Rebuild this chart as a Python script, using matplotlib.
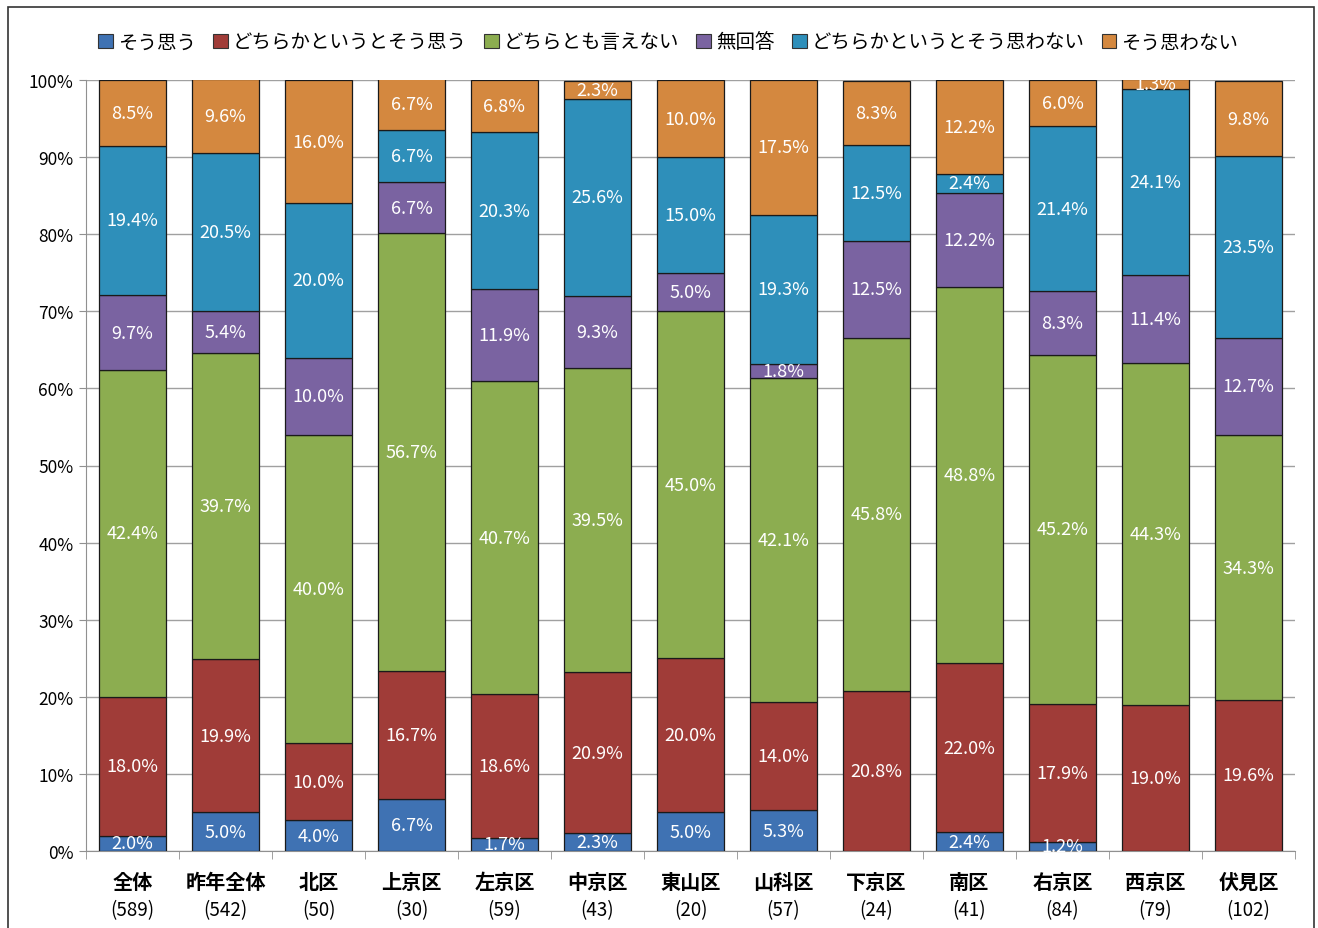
import numpy as np
import matplotlib.pyplot as plt
from matplotlib.patches import Rectangle, Patch

plt.rcParams['font.family'] = ['Noto Sans CJK JP', 'DejaVu Sans']

# データ
areas = ["全体", "昨年全体", "北区", "上京区", "左京区", "中京区", "東山区",
         "山科区", "下京区", "南区", "右京区", "西京区", "伏見区"]
counts = [589, 542, 50, 30, 59, 43, 20, 57, 24, 41, 84, 79, 102]

series_names = ["そう思う", "どちらかというとそう思う", "どちらとも言えない",
                "無回答", "どちらかというとそう思わない", "そう思わない"]

sou_omou = [2.0, 5.0, 4.0, 6.7, 1.7, 2.3, 5.0, 5.3, 0.0, 2.4, 1.2, 0.0, 0.0]
dochiraka_omou = [18.0, 19.9, 10.0, 16.7, 18.6, 20.9, 20.0, 14.0, 20.8, 22.0, 17.9, 19.0, 19.6]
dochiratomo = [42.4, 39.7, 40.0, 56.7, 40.7, 39.5, 45.0, 42.1, 45.8, 48.8, 45.2, 44.3, 34.3]
mukaitou = [9.7, 5.4, 10.0, 6.7, 11.9, 9.3, 5.0, 1.8, 12.5, 12.2, 8.3, 11.4, 12.7]
dochiraka_omowanai = [19.4, 20.5, 20.0, 6.7, 20.3, 25.6, 15.0, 19.3, 12.5, 2.4, 21.4, 24.1, 23.5]
sou_omowanai = [8.5, 9.6, 16.0, 6.7, 6.8, 2.3, 10.0, 17.5, 8.3, 12.2, 6.0, 1.3, 9.8]

series_values = [sou_omou, dochiraka_omou, dochiratomo, mukaitou,
                 dochiraka_omowanai, sou_omowanai]
colors = ["#3f72b3", "#a03c38", "#8cad50", "#7a63a1", "#2e8fba", "#d4883f"]

fig = plt.figure(figsize=(13.18, 9.29), dpi=100)
fig.patch.set_facecolor("white")

# 外枠
fig.patches.append(Rectangle((8 / 1318, -0.01), 1306 / 1318, 1 - 8 / 929 + 0.01,
                             transform=fig.transFigure, fill=False,
                             edgecolor="#333333", linewidth=1.2))

ax = fig.add_axes([86 / 1318, 1 - 852 / 929, (1295 - 86) / 1318, (852 - 81) / 929])

x = np.arange(len(areas))
bottom = np.zeros(len(areas))
for name, vals, col in zip(series_names, series_values, colors):
    vals = np.array(vals)
    ax.bar(x, vals, width=0.72, bottom=bottom, color=col, edgecolor="#1a1a1a",
           linewidth=0.9, label=name, zorder=3)
    for xi, b, v in zip(x, bottom, vals):
        if v > 0:
            ax.text(xi, b + v / 2, f"{v:.1f}%", ha="center", va="center",
                    color="white", fontsize=13, zorder=4)
    bottom += vals

ax.set_xlim(-0.5, len(areas) - 0.5)
ax.set_ylim(0, 100)
ax.set_yticks(np.arange(0, 101, 10))
ax.set_yticklabels([f"{v}%" for v in range(0, 101, 10)], fontsize=12.5)
ax.yaxis.grid(True, color="#a0a0a0", linewidth=1.0, zorder=0)
ax.set_axisbelow(True)

for s in ["top", "right"]:
    ax.spines[s].set_visible(False)
ax.spines["left"].set_color("#909090")
ax.spines["bottom"].set_color("#909090")
ax.tick_params(axis="y", length=5, color="#909090", pad=4)

# x軸の目盛り（区切り位置）
ax.set_xticks(np.arange(-0.5, len(areas)), minor=True)
ax.tick_params(axis="x", which="minor", length=6, color="#909090", direction="out")
ax.set_xticks(x)
ax.set_xticklabels([""] * len(areas))
ax.tick_params(axis="x", which="major", length=0)

for xi, a, c in zip(x, areas, counts):
    ax.text(xi, -2.6, a, ha="center", va="top", fontsize=14.5, fontweight="bold")
    ax.text(xi, -6.3, f"({c})", ha="center", va="top", fontsize=13.5)

handles = [Patch(facecolor=c, edgecolor="#333333", linewidth=0.8) for c in colors]
fig.legend(handles, series_names, loc="center", bbox_to_anchor=(0.507, 1 - 43 / 929),
           ncol=6, frameon=False, fontsize=14, handlelength=0.75, handleheight=0.75,
           handletextpad=0.25, columnspacing=0.9)

plt.savefig("out.png", dpi=100)
